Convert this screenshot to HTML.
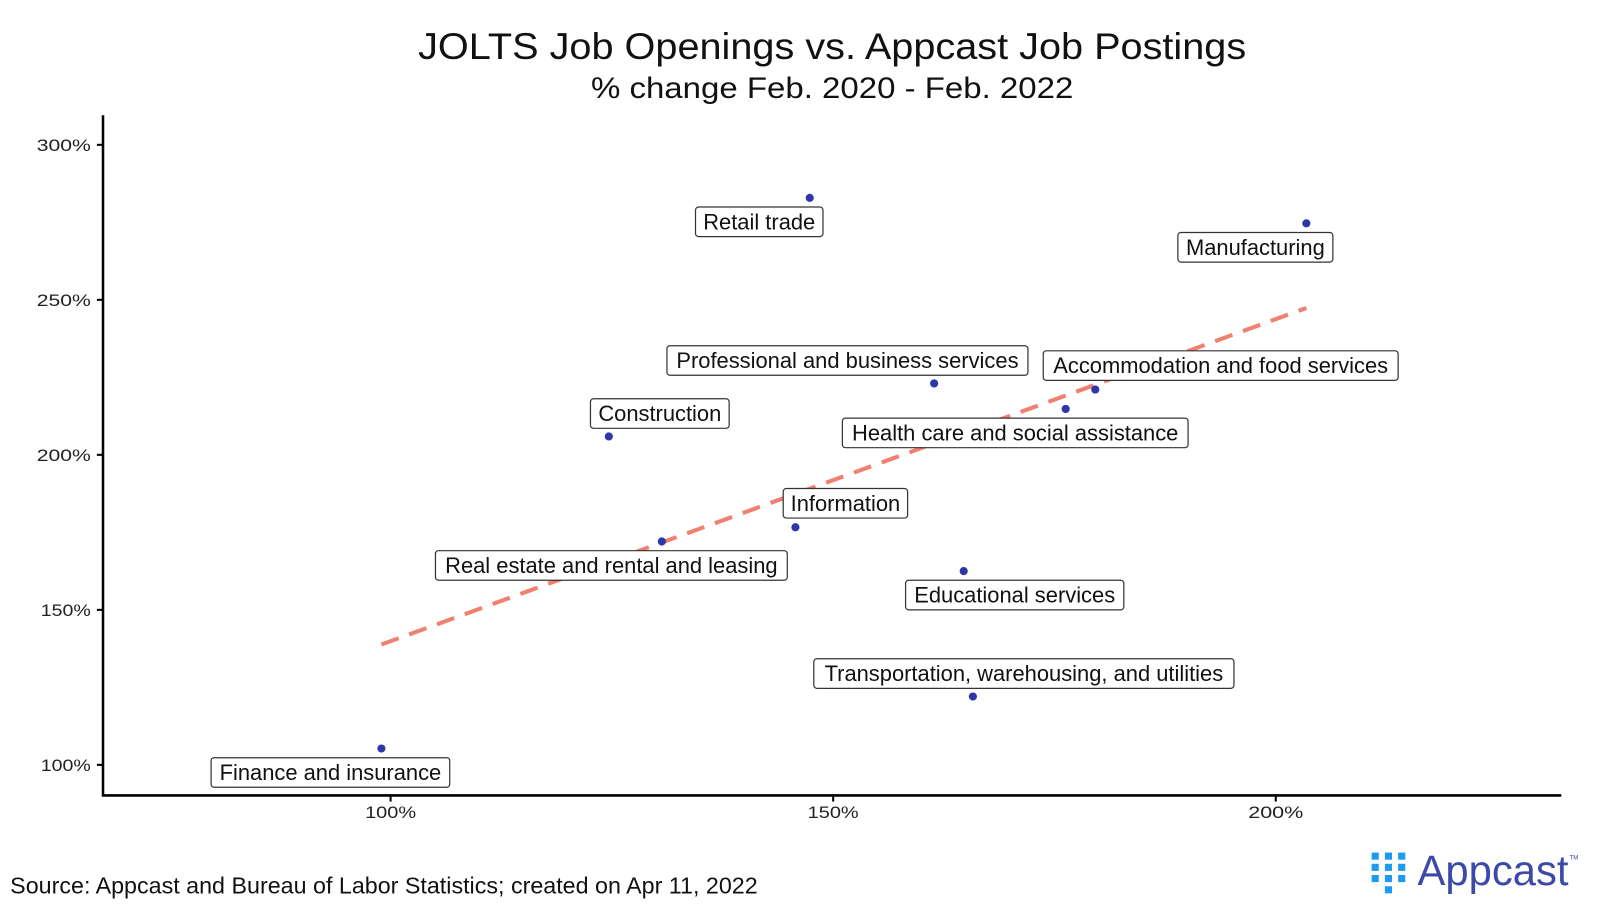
<!DOCTYPE html>
<html><head><meta charset="utf-8"><style>
body{margin:0;background:#fff;width:1600px;height:909px;overflow:hidden;font-family:"Liberation Sans",sans-serif}
</style></head><body>
<svg width="1600" height="909" xmlns="http://www.w3.org/2000/svg" font-family="Liberation Sans, sans-serif">
<g transform="scale(1.0198)">
<text x="816" y="58" font-size="36" text-anchor="middle" fill="#111" textLength="812" lengthAdjust="spacingAndGlyphs">JOLTS Job Openings vs. Appcast Job Postings</text>
<text x="816" y="96" font-size="29" text-anchor="middle" fill="#111" textLength="473" lengthAdjust="spacingAndGlyphs">% change Feb. 2020 - Feb. 2022</text>
<line x1="101" y1="113" x2="101" y2="781" stroke="#000" stroke-width="2.5"/>
<line x1="100" y1="780" x2="1531" y2="780" stroke="#000" stroke-width="2.5"/>
<g font-size="16" fill="#222">
<text x="36" y="148" textLength="53" lengthAdjust="spacingAndGlyphs">300%</text><text x="36" y="300" textLength="53" lengthAdjust="spacingAndGlyphs">250%</text><text x="36" y="452" textLength="53" lengthAdjust="spacingAndGlyphs">200%</text><text x="40" y="604" textLength="49" lengthAdjust="spacingAndGlyphs">150%</text><text x="40" y="756" textLength="49" lengthAdjust="spacingAndGlyphs">100%</text>
</g>
<g stroke="#000" stroke-width="2"><line x1="95" y1="142" x2="101" y2="142"/><line x1="95" y1="294" x2="101" y2="294"/><line x1="95" y1="446" x2="101" y2="446"/><line x1="95" y1="598" x2="101" y2="598"/><line x1="95" y1="750" x2="101" y2="750"/>
<line x1="383" y1="780" x2="383" y2="786"/><line x1="817" y1="780" x2="817" y2="786"/><line x1="1251" y1="780" x2="1251" y2="786"/></g>
<g font-size="16" fill="#222" text-anchor="middle"><text x="383" y="802" textLength="50" lengthAdjust="spacingAndGlyphs">100%</text><text x="817" y="802" textLength="50" lengthAdjust="spacingAndGlyphs">150%</text><text x="1251" y="802" textLength="54" lengthAdjust="spacingAndGlyphs">200%</text></g>
<line x1="374" y1="632" x2="1281" y2="302" stroke="#f08070" stroke-width="4" stroke-dasharray="18,11"/>
<g fill="#2f36a8">
<circle cx="794" cy="194" r="4"/><circle cx="1281" cy="219" r="4"/><circle cx="916" cy="376" r="4"/><circle cx="1074" cy="382" r="4"/><circle cx="1045" cy="401" r="4"/><circle cx="597" cy="428" r="4"/><circle cx="780" cy="517" r="4"/><circle cx="649" cy="531" r="4"/><circle cx="945" cy="560" r="4"/><circle cx="954" cy="683" r="4"/><circle cx="374" cy="734" r="4"/>
</g>
<g fill="#fff" stroke="#333" stroke-width="1.2">
<rect x="682" y="203" width="125" height="29" rx="3"/>
<rect x="1155" y="228" width="152" height="29" rx="3"/>
<rect x="654" y="339" width="354" height="29" rx="3"/>
<rect x="1023" y="344" width="348" height="29" rx="3"/>
<rect x="826" y="410" width="339" height="29" rx="3"/>
<rect x="579" y="391" width="136" height="29" rx="3"/>
<rect x="768" y="479" width="122" height="29" rx="3"/>
<rect x="427" y="540" width="345" height="29" rx="3"/>
<rect x="888" y="569" width="214" height="29" rx="3"/>
<rect x="798" y="646" width="412" height="29" rx="3"/>
<rect x="207" y="743" width="234" height="29" rx="3"/>
</g>
<g font-size="21.5" fill="#111" text-anchor="middle">
<text x="744.5" y="225">Retail trade</text>
<text x="1231" y="250">Manufacturing</text>
<text x="831" y="361">Professional and business services</text>
<text x="1197" y="366">Accommodation and food services</text>
<text x="995.5" y="432">Health care and social assistance</text>
<text x="647" y="413">Construction</text>
<text x="829" y="501">Information</text>
<text x="599.5" y="562">Real estate and rental and leasing</text>
<text x="995" y="591">Educational services</text>
<text x="1004" y="668">Transportation, warehousing, and utilities</text>
<text x="324" y="765">Finance and insurance</text>
</g>
<text x="10" y="876" font-size="22.5" fill="#111" textLength="733" lengthAdjust="spacingAndGlyphs">Source: Appcast and Bureau of Labor Statistics; created on Apr 11, 2022</text>
<g fill="#1e9bef">
<rect x="1345" y="836" width="7" height="7"/><rect x="1345" y="847" width="7" height="7"/><rect x="1345" y="858" width="7" height="7"/>
<rect x="1358" y="836" width="7" height="7"/><rect x="1358" y="847" width="7" height="7"/><rect x="1358" y="858" width="7" height="7"/><rect x="1358" y="869" width="7" height="7"/>
<rect x="1371" y="836" width="7" height="7"/><rect x="1371" y="847" width="7" height="7"/><rect x="1371" y="858" width="7" height="7"/>
</g>
<text x="1390" y="868" font-size="42" fill="#3b4aa8" textLength="148" lengthAdjust="spacingAndGlyphs">Appcast</text>
<text x="1539" y="843" font-size="6" fill="#3b4aa8">TM</text>
</g>
</svg>
</body></html>
